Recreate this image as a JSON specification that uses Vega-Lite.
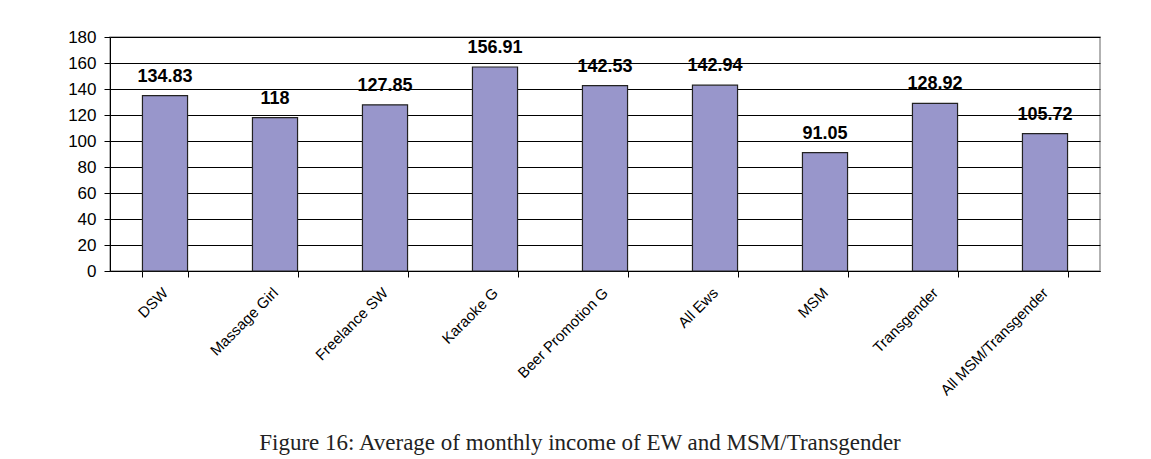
{
  "$schema": "https://vega.github.io/schema/vega-lite/v6.json",
  "autosize": "none",
  "width": 990,
  "height": 234,
  "padding": {"left": 110, "top": 37, "right": 51, "bottom": 188},
  "background": "white",
  "title": {
    "text": "Figure 16: Average of monthly income of EW and MSM/Transgender",
    "orient": "bottom",
    "anchor": "middle",
    "offset": 34,
    "dx": -25,
    "font": "Liberation Serif",
    "fontSize": 23,
    "fontWeight": "normal",
    "color": "#222"
  },
  "data": {
    "values": [
      {"group": "DSW", "income": 134.83, "label": "134.83"},
      {"group": "Massage Girl", "income": 118, "label": "118"},
      {"group": "Freelance SW", "income": 127.85, "label": "127.85"},
      {"group": "Karaoke G", "income": 156.91, "label": "156.91"},
      {"group": "Beer Promotion G", "income": 142.53, "label": "142.53"},
      {"group": "All Ews", "income": 142.94, "label": "142.94"},
      {"group": "MSM", "income": 91.05, "label": "91.05"},
      {"group": "Transgender", "income": 128.92, "label": "128.92"},
      {"group": "All MSM/Transgender", "income": 105.72, "label": "105.72"}
    ]
  },
  "encoding": {
    "x": {
      "field": "group",
      "type": "nominal",
      "sort": null,
      "scale": {"paddingInner": 0.59, "paddingOuter": 0.295},
      "axis": {
        "title": null,
        "labelAngle": -45,
        "labelFont": "Liberation Sans",
        "labelFontSize": 15,
        "labelColor": "#000",
        "tickBand": "extent",
        "tickSize": 6,
        "tickColor": "#000",
        "domainColor": "#000",
        "labelPadding": 8,
        "labelOffset": -5,
        "labelLimit": 300,
        "grid": false
      }
    },
    "y": {
      "field": "income",
      "type": "quantitative",
      "scale": {"domain": [0, 180], "nice": false},
      "axis": {
        "title": null,
        "values": [0, 20, 40, 60, 80, 100, 120, 140, 160, 180],
        "labelFont": "Liberation Sans",
        "labelFontSize": 17,
        "labelColor": "#000",
        "tickSize": 6,
        "tickColor": "#000",
        "domainColor": "#000",
        "gridColor": "#000",
        "gridOpacity": 1,
        "labelPadding": 8
      }
    }
  },
  "layer": [
    {
      "mark": {"type": "bar", "fill": "#9896CB", "stroke": "#222", "strokeWidth": 1.2}
    },
    {
      "mark": {"type": "text", "font": "Liberation Sans", "fontSize": 18, "fontWeight": "bold", "dy": -14, "baseline": "alphabetic", "color": "#000"},
      "encoding": {"text": {"field": "label"}}
    }
  ],
  "config": {
    "view": {"stroke": "#999", "strokeWidth": 1.5}
  }
}
